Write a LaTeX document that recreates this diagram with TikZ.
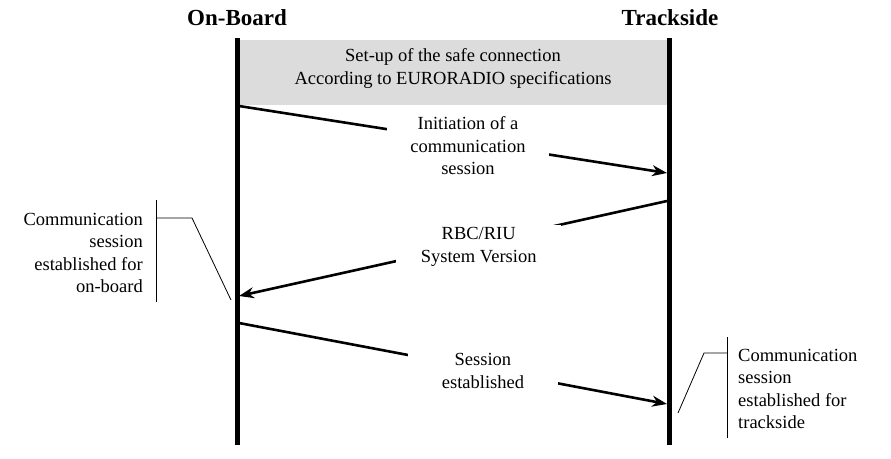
\documentclass[tikz,border=0pt]{standalone}
\usepackage{fontspec}
\setmainfont{Liberation Serif}
\usepackage{xcolor}
\usepackage{tikz}
\usetikzlibrary{arrows.meta, positioning}
\definecolor{boxgray}{HTML}{DCDCDC}
\tikzstyle{heading} = [font=\fontsize{23}{26}\selectfont\bfseries, inner sep=0pt]
\tikzstyle{lifeline} = [line width=5pt]
\tikzstyle{msg} = [line width=2.6pt, -{Stealth[length=15pt, width=11pt]}]
\tikzstyle{label} = [fill=white, align=center, minimum width=162pt, inner ysep=2pt, font=\fontsize{18.5}{22.5}\selectfont]
\tikzstyle{note} = [inner sep=0pt, font=\fontsize{18.5}{22.5}\selectfont]
\tikzstyle{pointer} = [line width=0.8pt]

\begin{document}
\begin{tikzpicture}[x=1pt, y=-1pt]
    \useasboundingbox (0,0) rectangle (891,458);
    \node (ob) [heading] at (237,18) {On-Board};
    \node (ts) [heading] at (670,18) {Trackside};
    \coordinate (obend) at (237,445);
    \coordinate (tsend) at (669,445);

    \fill [boxgray] (240,40) rectangle (666.5,105);
    \node (setup) [note, align=center] at (453,68.5) {Set-up of the safe connection\\According to EURORADIO specifications};

    \draw [lifeline] (237,38) -- (obend);
    \draw [lifeline] (669,38) -- (tsend);

    \coordinate (ob1) at (239,106);
    \coordinate (ts1) at (667,173);
    \coordinate (ts2) at (667,201);
    \coordinate (ob2) at (239,296);
    \coordinate (ob3) at (239,323);
    \coordinate (ts3) at (667,404);

    \draw [msg] (ob1) -- node[label, pos=0.535, yshift=-4pt] {Initiation of a\\communication\\session} (ts1);
    \draw [msg] (ts2) -- node[label, pos=0.44, yshift=-4pt, minimum width=165pt] {RBC/RIU\\System Version} (ob2);
    \draw [msg] (ob3) -- node[label, pos=0.57, yshift=-2pt, minimum width=150pt] {Session\\established} (ts3);

    % notes
    \node (obnote) [note, anchor=east, align=right] at (143,253) {Communication\\session\\established for\\on-board};
    \node (tsnote) [note, anchor=west, align=left] at (738,389) {Communication\\session\\established for\\trackside};
    \coordinate (obtick) at (192,218);
    \coordinate (obtip) at (231,300);
    \coordinate (tstick) at (704,353);
    \coordinate (tstip) at (678,413);
    \draw [pointer] (156,200) -- (156,302);
    \draw [pointer] (156,218) -- (obtick) -- (obtip);
    \draw [pointer] (727,337) -- (727,438);
    \draw [pointer] (727,353) -- (tstick) -- (tstip);
\end{tikzpicture}
\end{document}
